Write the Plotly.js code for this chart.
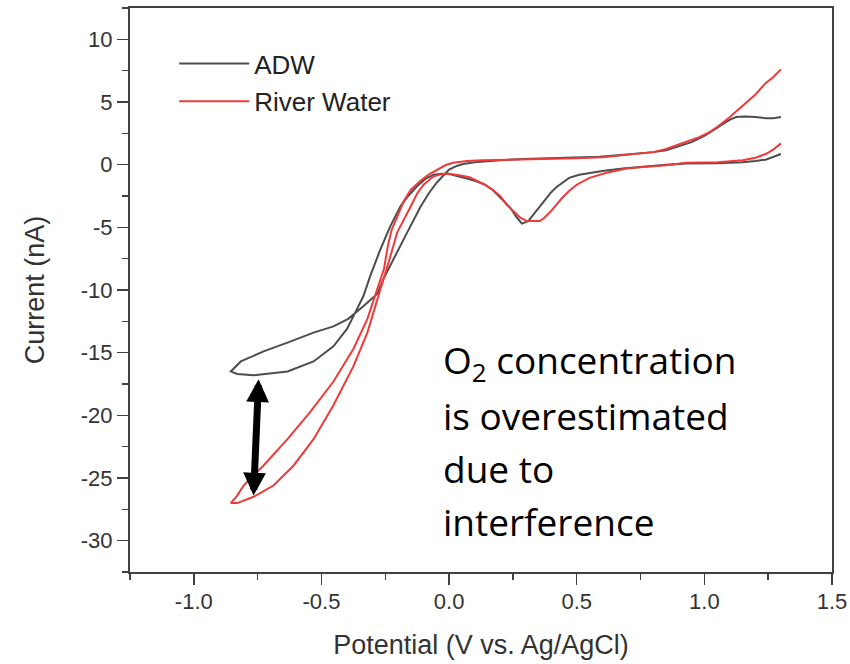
<!DOCTYPE html>
<html>
<head>
<meta charset="utf-8">
<script src="https://cdn.plot.ly/plotly-3.0.1.min.js"></script>
<style>
html,body{margin:0;padding:0;background:#fff;}
#chart{width:850px;height:664px;}
</style>
</head>
<body>
<div id="chart"></div>
<script>
// ADW cyclic voltammogram (Potential V vs Ag/AgCl, Current nA)
// reverse sweep from +1.30 V down to -0.855 V, then forward sweep back to +1.30 V
const adwPotential = [
  1.30,1.27,1.24,1.20,1.15,1.05,0.93,0.85,0.72,0.68,0.60,0.55,0.51,0.47,0.445,0.42,0.40,0.38,0.355,0.33,0.31,0.285,0.265,0.238,0.21,0.19,0.17,0.14,0.11,0.07,0.04,0.0,-0.03,-0.06,-0.09,-0.125,-0.16,-0.19,-0.23,-0.27,-0.309,-0.336,-0.375,-0.40,-0.453,-0.531,-0.633,-0.766,-0.83,-0.855,
  -0.816,-0.727,-0.633,-0.531,-0.453,-0.395,-0.336,-0.281,-0.258,-0.22,-0.19,-0.164,-0.113,-0.08,-0.047,-0.02,0.0,0.03,0.055,0.10,0.13,0.20,0.29,0.40,0.50,0.59,0.66,0.72,0.80,0.85,0.90,0.95,1.00,1.05,1.10,1.125,1.16,1.20,1.24,1.27,1.30
];
const adwCurrent = [
  0.85,0.6,0.4,0.3,0.2,0.12,0.1,0.0,-0.2,-0.3,-0.5,-0.65,-0.8,-1.05,-1.4,-1.8,-2.2,-2.7,-3.3,-4.0,-4.5,-4.7,-4.2,-3.4,-2.8,-2.4,-2.0,-1.6,-1.35,-1.1,-0.95,-0.75,-0.72,-0.8,-1.1,-1.7,-2.5,-3.3,-4.9,-6.8,-8.9,-10.5,-12.1,-13.1,-14.5,-15.7,-16.5,-16.8,-16.7,-16.5,
  -15.7,-14.9,-14.2,-13.4,-12.9,-12.3,-11.3,-10.3,-9.15,-7.6,-6.5,-5.4,-3.4,-2.3,-1.4,-0.8,-0.4,-0.1,0.05,0.2,0.25,0.35,0.45,0.5,0.55,0.63,0.75,0.85,1.0,1.15,1.45,1.8,2.3,2.95,3.6,3.8,3.85,3.8,3.7,3.7,3.8
];
// River Water cyclic voltammogram
const riverPotential = [
  1.30,1.27,1.24,1.20,1.15,1.05,0.93,0.85,0.75,0.695,0.617,0.55,0.50,0.47,0.445,0.42,0.395,0.37,0.355,0.33,0.305,0.277,0.25,0.226,0.20,0.17,0.14,0.11,0.08,0.04,-0.008,-0.04,-0.062,-0.10,-0.125,-0.152,-0.18,-0.203,-0.23,-0.258,-0.281,-0.32,-0.375,-0.453,-0.531,-0.609,-0.688,-0.766,-0.83,-0.855,
  -0.83,-0.805,-0.727,-0.633,-0.543,-0.453,-0.375,-0.32,-0.281,-0.255,-0.24,-0.225,-0.20,-0.18,-0.15,-0.113,-0.08,-0.047,-0.015,0.016,0.07,0.13,0.20,0.30,0.40,0.50,0.60,0.668,0.75,0.80,0.85,0.90,0.95,0.98,1.02,1.05,1.10,1.16,1.20,1.24,1.27,1.30
];
const riverCurrent = [
  1.7,1.2,0.85,0.55,0.35,0.2,0.15,-0.05,-0.2,-0.3,-0.65,-1.05,-1.6,-2.1,-2.6,-3.2,-3.8,-4.3,-4.5,-4.5,-4.5,-4.2,-3.7,-3.2,-2.5,-2.0,-1.6,-1.3,-1.0,-0.85,-0.7,-0.8,-0.95,-1.6,-2.3,-3.4,-4.5,-5.4,-7.3,-9.15,-10.7,-13.4,-16.1,-19.2,-21.9,-24.0,-25.6,-26.5,-27.0,-27.0,
  -26.4,-25.6,-24.0,-21.9,-19.7,-17.3,-14.7,-12.3,-9.9,-8.3,-6.5,-5.2,-4.0,-3.0,-2.0,-1.3,-0.8,-0.4,-0.05,0.15,0.3,0.35,0.38,0.42,0.45,0.52,0.6,0.75,0.9,1.0,1.25,1.6,1.95,2.2,2.6,3.0,3.8,4.9,5.6,6.5,7.0,7.6
];
const seriesNames = ['ADW', 'River Water'];
const xTickVals = [-1.0, -0.5, 0.0, 0.5, 1.0, 1.5];
const xTickText = ['-1.0', '-0.5', '0.0', '0.5', '1.0', '1.5'];
const yTickVals = [10, 5, 0, -5, -10, -15, -20, -25, -30];
const yTickText = ['10', '5', '0', '-5', '-10', '-15', '-20', '-25', '-30'];
const noteLines = ['O<sub>2</sub> concentration', 'is overestimated', 'due to', 'interference'];

const axisFont = 'Liberation Sans, Arial, sans-serif';
const traces = [
  {x: adwPotential, y: adwCurrent, name: seriesNames[0], mode: 'lines', legendgroup: 'a',
   line: {color: '#4d4d4d', width: 2}},
  {x: riverPotential, y: riverCurrent, name: seriesNames[1], mode: 'lines', legendgroup: 'b',
   line: {color: '#f03a3a', width: 2}}
];

const noteY = [362, 415, 468, 521];
const annotations = noteLines.map((t, i) => ({
  text: t, xref: 'paper', yref: 'paper', x: (441 - 130) / 702, y: (572 - noteY[i]) / 564,
  xanchor: 'left', yanchor: 'middle', showarrow: false,
  font: {family: 'Open Sans, sans-serif', size: 37, color: '#000'}
}));
annotations.push({
  xref: 'x', yref: 'y', axref: 'x', ayref: 'y',
  x: -0.766, y: -26.4, ax: -0.746, ay: -17.0, text: '',
  showarrow: true, arrowside: 'end+start', arrowhead: 2, startarrowhead: 2,
  arrowsize: 0.65, startarrowsize: 0.65, arrowwidth: 7, arrowcolor: '#000',
  standoff: 0, startstandoff: 0
});

const layout = {
  width: 850, height: 664,
  margin: {l: 130, r: 18, t: 8, b: 92},
  paper_bgcolor: '#fff', plot_bgcolor: '#fff',
  showlegend: true,
  legend: {x: 0.063, y: 0.943, xanchor: 'left', yanchor: 'top', bgcolor: 'rgba(0,0,0,0)',
           font: {family: axisFont, size: 26, color: '#222'}, tracegroupgap: 1, itemwidth: 70},
  xaxis: {
    range: [-1.25, 1.5], tickvals: xTickVals, ticktext: xTickText,
    showgrid: false, zeroline: false, showline: true, mirror: true,
    linecolor: '#404040', linewidth: 2, ticks: 'outside', ticklen: 11, tickwidth: 1.5, tickcolor: '#404040',
    minor: {dtick: 0.25, ticks: 'outside', ticklen: 6, tickwidth: 1.5, tickcolor: '#404040', showgrid: false},
    tickfont: {family: axisFont, size: 22, color: '#333'}, ticklabelstandoff: -2,
    title: {text: 'Potential (V vs. Ag/AgCl)', font: {family: axisFont, size: 27, color: '#333'}, standoff: 22}
  },
  yaxis: {
    range: [-32.5, 12.5], tickvals: yTickVals, ticktext: yTickText,
    showgrid: false, zeroline: false, showline: true, mirror: true,
    linecolor: '#404040', linewidth: 2, ticks: 'outside', ticklen: 11, tickwidth: 1.5, tickcolor: '#404040',
    minor: {dtick: 2.5, ticks: 'outside', ticklen: 6, tickwidth: 1.5, tickcolor: '#404040', showgrid: false},
    tickfont: {family: axisFont, size: 22, color: '#333'}, ticklabelstandoff: 0,
    title: {text: 'Current (nA)', font: {family: axisFont, size: 27, color: '#333'}, standoff: 28}
  },
  annotations: annotations
};

Plotly.newPlot('chart', traces, layout, {displayModeBar: false, staticPlot: true});
</script>
</body>
</html>
